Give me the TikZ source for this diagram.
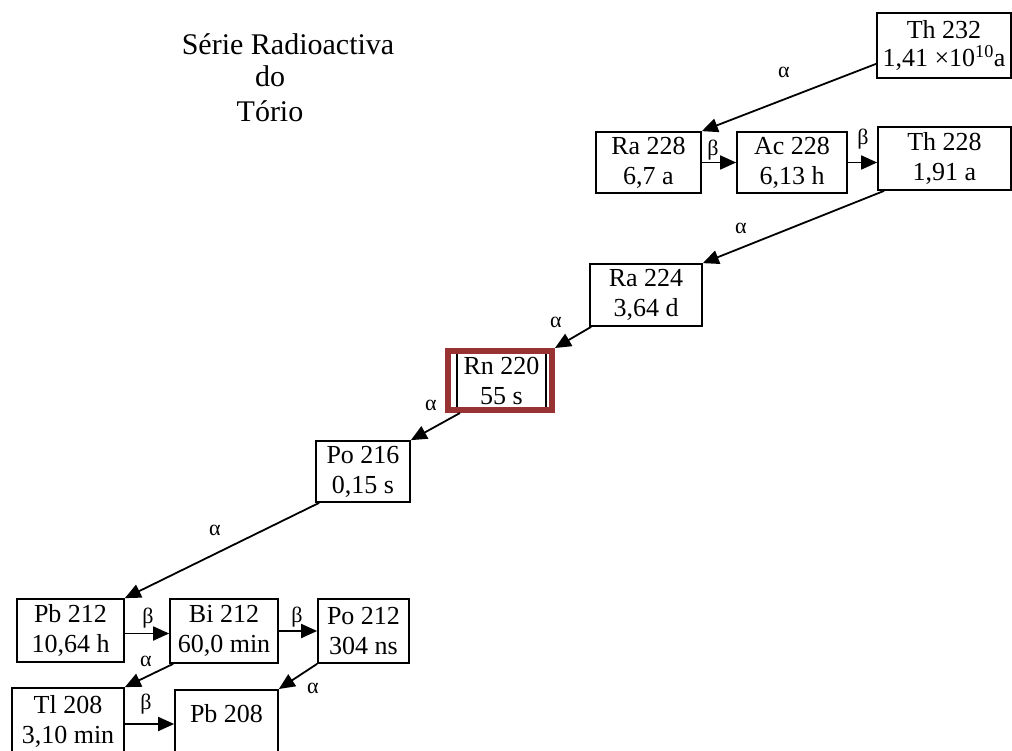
\documentclass[tikz,border=0pt]{standalone}
\usepackage{fontspec}
\setmainfont{Liberation Serif}
\usetikzlibrary{arrows.meta}
\definecolor{rnred}{RGB}{153,51,51}
\begin{document}
\begin{tikzpicture}[x=1pt,y=-1pt,
  box/.style={draw, line width=1.7pt, inner sep=0pt, align=center,
              font=\fontsize{26}{30}\selectfont},
  boxtext/.style={inner sep=0pt, anchor=base, font=\fontsize{26}{30}\selectfont},
  decay/.style={line width=1.8pt, -{Triangle[length=16pt,width=14pt]}},
  lbl/.style={inner sep=0pt, font=\fontsize{22}{24}\selectfont},
  ttl/.style={inner sep=0pt, anchor=base, font=\fontsize{30}{33}\selectfont}]
\useasboundingbox (0,0) rectangle (1012,751);
\clip (0,0) rectangle (1012,751);

% title
\node[ttl] (t1) at (288,55) {Série Radioactiva};
\node[ttl] (t2) at (270,87) {do};
\node[ttl] (t3) at (270,122) {Tório};

% nuclides
\node[box, minimum width=134, minimum height=65, font=\fontsize{26}{28}\selectfont]
  (th232) at (944,45.5) {Th 232\\1,41 ×10\textsuperscript{10}a};
\node[box, minimum width=105, minimum height=61] (ra228) at (648.5,162.5) {Ra 228\\6,7 a};
\node[box, minimum width=110, minimum height=61] (ac228) at (792,162.5) {Ac 228\\6,13 h};
\node[box, minimum width=133, minimum height=63] (th228) at (944.5,158.5) {Th 228\\1,91 a};
\node[box, minimum width=112, minimum height=62] (ra224) at (646,295) {Ra 224\\3,64 d};
\node[box, minimum width=89, minimum height=58] (rn220) at (501.5,381) {Rn 220\\55 s};
\node[draw=rnred, line width=6pt, inner sep=0pt, minimum width=104, minimum height=59]
  (rnframe) at (500,380.5) {};
\node[box, minimum width=94, minimum height=61] (po216) at (363,471.5) {Po 216\\0,15 s};
\node[box, minimum width=107, minimum height=63] (pb212) at (70.5,630.5) {Pb 212\\10,64 h};
\node[box, minimum width=108, minimum height=64] (bi212) at (224,631) {Bi 212\\60,0 min};
\node[box, minimum width=91, minimum height=64] (po212) at (363.5,631) {Po 212\\304 ns};
\node[box, minimum width=112, minimum height=66] (tl208) at (68,721) {Tl 208\\3,10 min};
\node[box, minimum width=103, minimum height=100, anchor=north] (pb208) at (226.5,689) {};
\node[boxtext] (pb208t) at (226.5,722) {Pb 208};

% decays
\draw[decay] ([yshift=15pt]th232.south west) -- (ra228.north east);
\draw[decay] (ra228.east) -- (ac228.west);
\draw[decay] (ac228.east) -- (th228.west |- ac228.east);
\draw[decay] ([xshift=7pt]th228.south west) -- (ra224.north east);
\draw[decay] ([xshift=2pt]ra224.south west) -- (rnframe.north east);
\draw[decay] ([xshift=15pt]rnframe.south west) -- (po216.north east);
\draw[decay] ([xshift=4pt]po216.south west) -- (pb212.north east);
\coordinate (pbout) at ([yshift=-3pt]pb212.east);
\draw[decay] (pbout) -- (bi212.west |- pbout);
\draw[decay] (bi212.east) -- (po212.west);
\draw[decay] ([xshift=4pt]bi212.south west) -- (tl208.north east);
\draw[decay] (po212.south west) -- (pb208.north east);
\coordinate (tlout) at ([yshift=-3pt]tl208.east);
\draw[decay] (tlout) -- (pb208.west |- tlout);

% decay labels
\node[lbl] (a1) at (784,72) {α};
\node[lbl] (b1) at (713,150) {β};
\node[lbl] (b2) at (863,139) {β};
\node[lbl] (a2) at (741,228) {α};
\node[lbl] (a3) at (556,322) {α};
\node[lbl] (a4) at (431,405) {α};
\node[lbl] (a5) at (215,530) {α};
\node[lbl] (b3) at (148,618) {β};
\node[lbl] (b4) at (297,617) {β};
\node[lbl] (a6) at (146,661) {α};
\node[lbl] (a7) at (313,688) {α};
\node[lbl] (b5) at (146,704) {β};
\end{tikzpicture}
\end{document}
